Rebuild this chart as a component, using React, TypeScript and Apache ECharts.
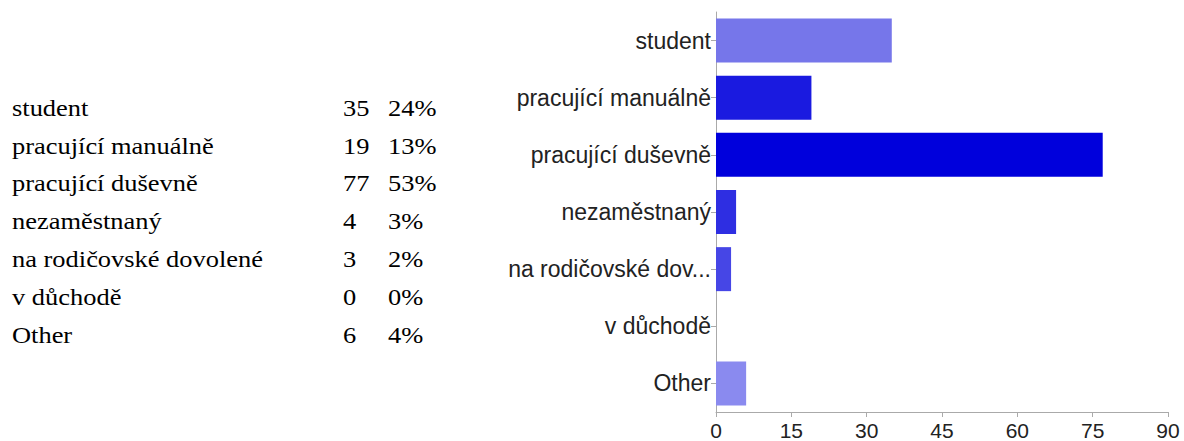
import React, { useEffect, useRef } from "react";
import * as echarts from "echarts";

const categories = [
  "student",
  "pracující manuálně",
  "pracující duševně",
  "nezaměstnaný",
  "na rodičovské dovolené",
  "v důchodě",
  "Other",
];
const counts = [35, 19, 77, 4, 3, 0, 6];
const percents = ["24%", "13%", "53%", "3%", "2%", "0%", "4%"];
const barColors = ["#7676EA", "#1A1AE0", "#0000DC", "#2E2EE2", "#4646E6", "#8E8EF0", "#8A8AEF"];
const xTicks = { min: 0, max: 90, interval: 15 };

export default function App() {
  const ref = useRef<HTMLDivElement>(null);
  useEffect(() => {
    if (!ref.current) return;
    const chart = echarts.init(ref.current, undefined, { renderer: "svg" });
    const rowTop = 108;
    const rowStep = 37.8;
    const tableFont = "23px 'Liberation Serif', 'Times New Roman', serif";
    const graphic: any[] = [];
    categories.forEach((c, i) => {
      const y = rowTop + i * rowStep;
      const common = {
        font: tableFont,
        fontFamily: "'Liberation Serif', 'Times New Roman', serif",
        fontSize: 23,
        fill: "#000",
        verticalAlign: "middle",
        align: "left",
      };
      graphic.push({ type: "text", x: 12, y, scaleX: 1.15, style: { ...common, text: c } });
      graphic.push({ type: "text", x: 343, y, scaleX: 1.15, style: { ...common, text: String(counts[i]) } });
      graphic.push({ type: "text", x: 388, y, scaleX: 1.15, style: { ...common, text: percents[i] } });
    });
    chart.setOption({
      animation: false,
      grid: { left: 716, right: 16, top: 12, bottom: 28, containLabel: false },
      xAxis: {
        type: "value",
        min: xTicks.min,
        max: xTicks.max,
        interval: xTicks.interval,
        splitLine: { show: false },
        axisLine: { show: true, lineStyle: { color: "#aaaaaa", width: 1 } },
        axisTick: { show: true, length: 5, lineStyle: { color: "#aaaaaa" } },
        axisLabel: { color: "#222", fontFamily: "'Liberation Sans', Arial, sans-serif", fontSize: 21, margin: 8 },
      },
      yAxis: {
        type: "category",
        data: categories,
        inverse: true,
        axisLine: { show: true, lineStyle: { color: "#aaaaaa", width: 1 } },
        axisTick: { show: true, length: 5, alignWithLabel: true, lineStyle: { color: "#aaaaaa" } },
        axisLabel: {
          color: "#222",
          fontFamily: "'Liberation Sans', Arial, sans-serif",
          fontSize: 23,
          margin: 5,
          formatter: (v: string) => (v.length > 18 ? v.slice(0, 17) + "..." : v),
        },
      },
      series: [
        {
          type: "bar",
          barCategoryGap: "23%",
          data: counts.map((v, i) => ({ value: v, itemStyle: { color: barColors[i] } })),
        },
      ],
      graphic,
    });
    return () => chart.dispose();
  }, []);
  return (
    <div
      ref={ref}
      style={{ position: "fixed", left: 0, top: 0, width: 1184, height: 441, background: "#fff" }}
    />
  );
}
